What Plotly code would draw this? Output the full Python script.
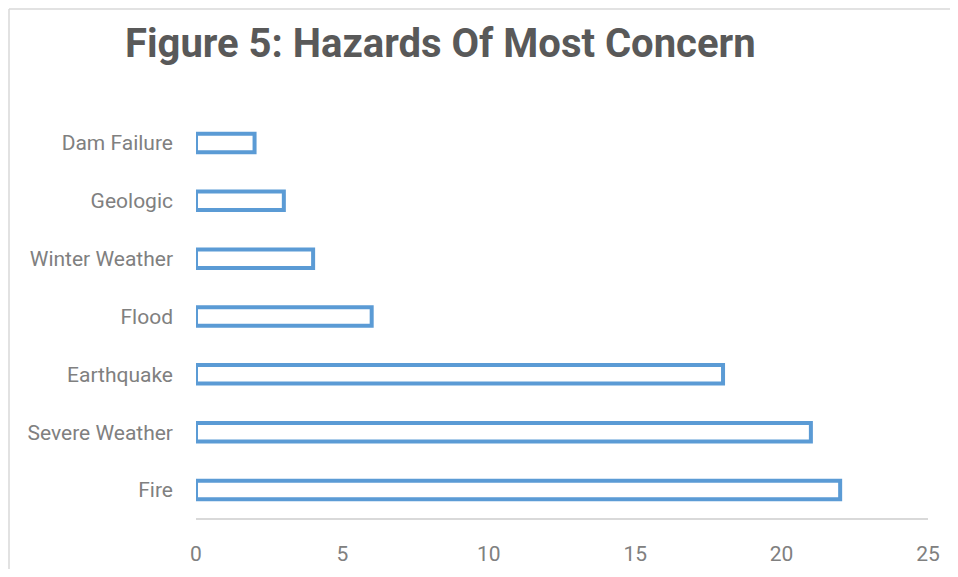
import plotly.graph_objects as go

hazards = ["Fire", "Severe Weather", "Earthquake", "Flood", "Winter Weather", "Geologic", "Dam Failure"]
counts = [22, 21, 18, 6, 4, 3, 2]
x_ticks = [0, 5, 10, 15, 20, 25]

label_font = "Roboto, sans-serif"

fig = go.Figure(go.Bar(
    x=counts,
    y=hazards,
    orientation="h",
    marker=dict(color="white", line=dict(color="#5B9BD5", width=4)),
))

# page has an 8px body margin on every side, so the figure is sized to fit the window
frame_left = (1 - 188) / 732
frame_top = (405 + 106 - 1) / 405

fig.update_layout(
    width=942, height=561,
    margin=dict(l=188, r=22, t=106, b=50),
    paper_bgcolor="white",
    plot_bgcolor="white",
    bargap=0.68,
    showlegend=False,
    title=dict(
        text="<b>Figure 5: Hazards Of Most Concern</b>",
        x=117 / 942, xanchor="left", xref="container",
        y=1 - 35 / 561, yanchor="middle", yref="container",
        font=dict(family=label_font, size=40, color="#595959"),
    ),
    xaxis=dict(
        range=[0, 25],
        tickvals=x_ticks,
        showgrid=False,
        zeroline=False,
        showline=False,
        ticks="",
        automargin=False,
        tickfont=dict(family=label_font, size=21, color="#808080"),
        ticklabelstandoff=20,
    ),
    yaxis=dict(
        showgrid=False,
        zeroline=False,
        showline=False,
        ticks="",
        automargin=False,
        ticklabelstandoff=22,
        tickfont=dict(family=label_font, size=21, color="#808080"),
    ),
    shapes=[
        # baseline under the bars
        dict(type="line", xref="paper", yref="paper", x0=0, x1=1, y0=0, y1=0,
             line=dict(color="#d9d9d9", width=2)),
        # chart frame, left and top edges
        dict(type="line", xref="paper", yref="paper",
             x0=frame_left, x1=frame_left, y0=-0.2, y1=frame_top,
             line=dict(color="#d9d9d9", width=1.5), layer="below"),
        dict(type="line", xref="paper", yref="paper",
             x0=frame_left, x1=1.1, y0=frame_top, y1=frame_top,
             line=dict(color="#d9d9d9", width=1.5), layer="below"),
    ],
)

fig.write_html("out.html")
